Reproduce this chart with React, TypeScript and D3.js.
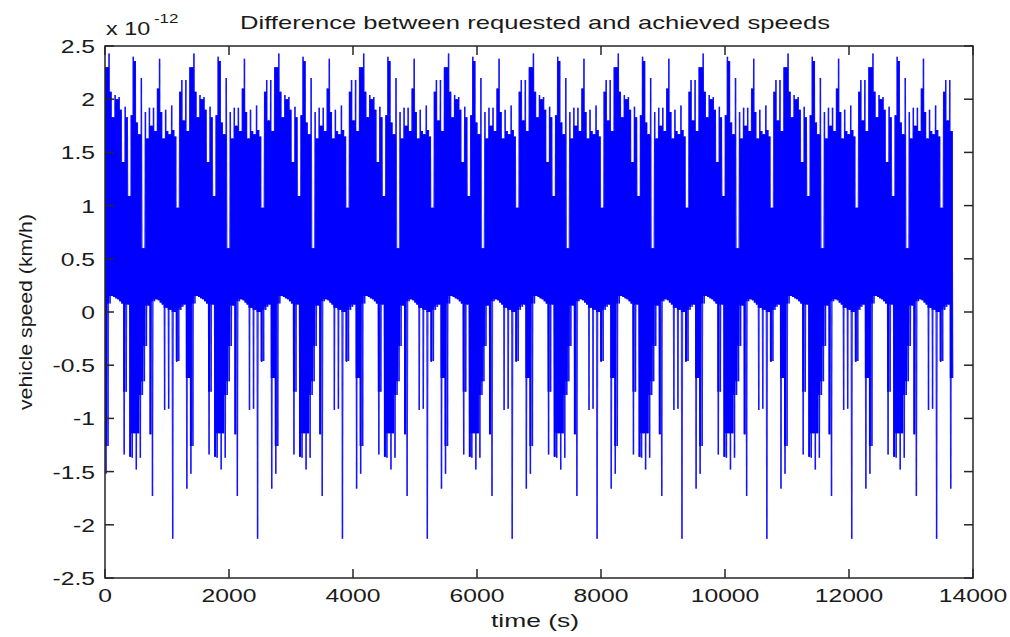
import React from 'react';
import * as d3 from 'd3';

// ---- data ----
const xTicks = [0, 2000, 4000, 6000, 8000, 10000, 12000, 14000];
const xTickLabels = ['0', '2000', '4000', '6000', '8000', '10000', '12000', '14000'];
const yTicks = [-2.5, -2, -1.5, -1, -0.5, 0, 0.5, 1, 1.5, 2, 2.5];
const yTickLabels = ['-2.5', '-2', '-1.5', '-1', '-0.5', '0', '0.5', '1', '1.5', '2', '2.5'];

// one drive cycle (x 1e-12 km/h): upper and lower excursions per sample
const cycleHigh = [
  2.3, 2.3, 2.43, 2.07, 1.83, 2.04, 2.0, 2.02, 1.9, 1.41,
  1.93, 1.83, 1.09, 1.85, 2.4, 2.36, 1.78, 1.67, 2.2, 0.6,
  1.88, 1.63, 1.92, 1.75, 1.92, 1.7, 2.1, 2.38, 1.88, 1.63,
  1.9, 1.7, 1.67, 1.94, 1.71, 1.65, 0.98, 2.07, 2.18, 1.8,
  2.18, 1.7,
];
const cycleLow = [
  -1.52, -1.26, 0.08, 0.15, 0.14, 0.13, 0.12, 0.1, 0.08, -1.34,
  -0.75, 0.07, -1.36, -1.37, -1.14, -1.48, -1.14, -1.37, -0.78, -0.65,
  -0.32, 0.06, -1.15, -1.73, 0.1, 0.12, 0.11, 0.09, 0.07, -0.92,
  0.04, -0.91, 0.02, -2.13, 0.0, -0.47, -0.46, 0.02, 0.05, 0.07,
  -1.66, -0.62,
];
const cyclePeriod = 1369; // seconds
const cycleCount = 10;

const W = 1010;
const H = 637;
const left = 105;
const right = 973;
const top = 46;
const bottom = 578;
const SX = 1.3; // horizontal stretch of the reference's text
const FONT = 'Liberation Sans, Arial, Helvetica, sans-serif';

type Sample = { t: number; hi: number; lo: number };
type Pt = { t: number; v: number };

function buildSamples(): Sample[] {
  const s: Sample[] = [];
  const n = cycleHigh.length;
  const dt = cyclePeriod / n;
  for (let c = 0; c < cycleCount; c++) {
    for (let k = 0; k < n; k++) {
      s.push({ t: c * cyclePeriod + k * dt, hi: cycleHigh[k], lo: cycleLow[k] });
    }
  }
  return s;
}

export default function App() {
  const x = d3.scaleLinear().domain([0, 14000]).range([left, right]);
  const y = d3.scaleLinear().domain([-2.5, 2.5]).range([bottom, top]);
  const samples = buildSamples();
  const dt = cyclePeriod / cycleHigh.length;

  // zig-zag trace through every sample
  const trace: Pt[] = [];
  samples.forEach((s) => {
    trace.push({ t: s.t, v: s.hi });
    trace.push({ t: s.t + dt / 2, v: s.lo });
  });
  const segs = d3.pairs(trace);

  // dense core: where neighbouring oscillations overlap
  const core = d3.pairs(samples).map(([a, b]) => ({
    t: a.t,
    top: Math.min(a.hi, b.hi),
    bot: Math.max(a.lo, b.lo),
  }));
  const last = samples[samples.length - 1];
  core.push({ t: last.t + dt / 2, top: core[core.length - 1].top, bot: core[core.length - 1].bot });
  const area = d3
    .area<{ t: number; top: number; bot: number }>()
    .x((d) => x(d.t))
    .y0((d) => y(d.bot))
    .y1((d) => y(d.top))
    .curve(d3.curveStepAfter);

  const tickLen = 9;
  const axisColor = '#262626';

  return (
    <svg
      width={W}
      height={H}
      style={{ position: 'absolute', left: 0, top: 0, background: '#fff' }}
      fontFamily={FONT}
    >
      <rect x={0} y={0} width={W} height={H} fill="#fff" />
      <defs>
        <clipPath id="plot">
          <rect x={left} y={top} width={right - left} height={bottom - top} />
        </clipPath>
      </defs>
      <g clipPath="url(#plot)">
        {segs.map(([a, b], i) => (
          <line
            key={i}
            x1={x(a.t)}
            y1={y(a.v)}
            x2={x(b.t)}
            y2={y(b.v)}
            stroke="#0000ff"
            strokeWidth={1.4}
            strokeOpacity={0.72}
          />
        ))}
        <path d={area(core) || ''} fill="#0000ff" />
      </g>

      {/* box */}
      <rect
        x={left}
        y={top}
        width={right - left}
        height={bottom - top}
        fill="none"
        stroke={axisColor}
        strokeWidth={1.5}
      />
      {/* ticks */}
      {xTicks.map((t) => (
        <g key={'xt' + t}>
          <line x1={x(t)} x2={x(t)} y1={bottom} y2={bottom - tickLen} stroke={axisColor} strokeWidth={1.5} />
          <line x1={x(t)} x2={x(t)} y1={top} y2={top + tickLen} stroke={axisColor} strokeWidth={1.5} />
        </g>
      ))}
      {yTicks.map((v) => (
        <g key={'yt' + v}>
          <line x1={left} x2={left + tickLen} y1={y(v)} y2={y(v)} stroke={axisColor} strokeWidth={1.5} />
          <line x1={right} x2={right - tickLen} y1={y(v)} y2={y(v)} stroke={axisColor} strokeWidth={1.5} />
        </g>
      ))}
      {/* tick labels */}
      {xTicks.map((t, i) => (
        <g key={'xl' + t} transform={`translate(${x(t)},602) scale(${SX},1)`}>
          <text textAnchor="middle" fontSize={19} fill="#1a1a1a">
            {xTickLabels[i]}
          </text>
        </g>
      ))}
      {yTicks.map((v, i) => (
        <g key={'yl' + v} transform={`translate(95,${y(v) + 7}) scale(${SX},1)`}>
          <text textAnchor="end" fontSize={19} fill="#1a1a1a">
            {yTickLabels[i]}
          </text>
        </g>
      ))}
      {/* exponent */}
      <g transform={`translate(106,35) scale(${SX},1)`}>
        <text fontSize={18} fill="#1a1a1a">
          x 10
        </text>
      </g>
      <g transform={`translate(154,23) scale(${SX},1)`}>
        <text fontSize={13} fill="#1a1a1a">
          -12
        </text>
      </g>
      {/* title */}
      <text
        x={535}
        y={29}
        textAnchor="middle"
        fontSize={19}
        fill="#1a1a1a"
        textLength={590}
        lengthAdjust="spacingAndGlyphs"
      >
        Difference between requested and achieved speeds
      </text>
      {/* x label */}
      <text
        x={535}
        y={627}
        textAnchor="middle"
        fontSize={19}
        fill="#1a1a1a"
        textLength={88}
        lengthAdjust="spacingAndGlyphs"
      >
        time (s)
      </text>
      {/* y label */}
      <text
        transform="translate(32,312) rotate(-90)"
        textAnchor="middle"
        fontSize={18}
        fill="#1a1a1a"
        textLength={196}
        lengthAdjust="spacingAndGlyphs"
      >
        vehicle speed (km/h)
      </text>
    </svg>
  );
}
